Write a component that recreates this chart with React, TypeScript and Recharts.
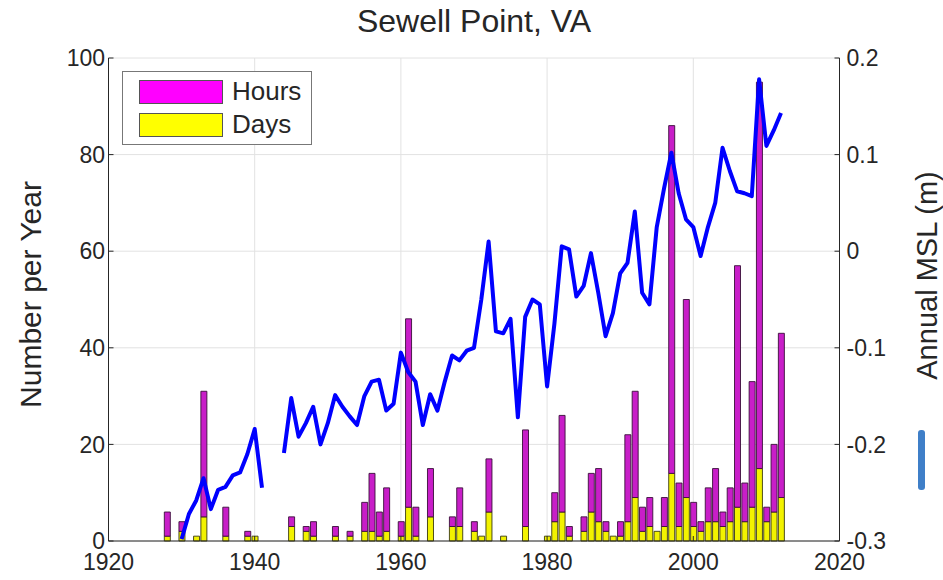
import React from "react";
import {
  ComposedChart,
  Bar,
  Line,
  XAxis,
  YAxis,
  CartesianGrid,
  Legend,
} from "recharts";

// flood counts per year at Sewell Point (only years with flooding)
const barYears = [
  1928, 1930, 1932, 1933, 1936, 1939, 1940, 1945, 1947, 1948, 1951, 1953, 1955,
  1956, 1957, 1958, 1960, 1961, 1962, 1964, 1967, 1968, 1970, 1971, 1972, 1974,
  1977, 1980, 1981, 1982, 1983, 1985, 1986, 1987, 1988, 1989, 1990, 1991, 1992,
  1993, 1994, 1995, 1996, 1997, 1998, 1999, 2000, 2001, 2002, 2003, 2004, 2005,
  2006, 2007, 2008, 2009, 2010, 2011, 2012,
];
const hours = [
  6, 4, 1, 31, 7, 2, 1, 5, 3, 4, 3, 2, 8, 14, 6, 11, 4, 46, 7, 15, 5, 11, 4, 1,
  17, 1, 23, 1, 10, 26, 3, 5, 14, 15, 4, 1, 4, 22, 31, 7, 9, 2, 9, 86, 12, 50, 8,
  4, 11, 15, 6, 11, 57, 12, 33, 95, 7, 20, 43,
];
const days = [
  1, 2, 1, 5, 1, 1, 1, 3, 2, 1, 1, 1, 2, 2, 1, 2, 1, 7, 1, 5, 3, 3, 2, 1, 6, 1,
  3, 1, 4, 6, 1, 2, 6, 4, 2, 1, 1, 4, 9, 2, 3, 2, 3, 14, 3, 9, 3, 2, 4, 4, 3, 4,
  7, 4, 7, 15, 4, 6, 9,
];

// annual mean sea level (m), 1930-2012, gap in 1942-43
const mslValues: (number | null)[] = [
  -0.298, -0.272, -0.258, -0.235, -0.267, -0.247, -0.244, -0.232, -0.229, -0.21,
  -0.184, -0.245, null, null, -0.209, -0.152, -0.192, -0.178, -0.161, -0.2,
  -0.178, -0.149, -0.161, -0.171, -0.18, -0.15, -0.135, -0.133, -0.165, -0.158,
  -0.105, -0.125, -0.135, -0.18, -0.148, -0.165, -0.135, -0.108, -0.113, -0.103,
  -0.1, -0.05, 0.01, -0.083, -0.085, -0.07, -0.172, -0.068, -0.05, -0.055,
  -0.14, -0.075, 0.005, 0.002, -0.047, -0.036, -0.002, -0.043, -0.088, -0.064,
  -0.023, -0.012, 0.041, -0.043, -0.055, 0.025, 0.065, 0.102, 0.06, 0.033,
  0.025, -0.005, 0.025, 0.05, 0.107, 0.083, 0.062, 0.06, 0.057, 0.178, 0.109,
  0.125, 0.143,
];
const mslYears = mslValues.map((_, i) => 1930 + i);

const xTicks = [1920, 1940, 1960, 1980, 2000, 2020];
const leftTicks = [0, 20, 40, 60, 80, 100];
const rightTicks = [-0.3, -0.2, -0.1, 0, 0.1, 0.2];

const years = Array.from(new Set([...barYears, ...mslYears])).sort((a, b) => a - b);
const data = years.map((year) => {
  const b = barYears.indexOf(year);
  const m = mslYears.indexOf(year);
  return {
    year,
    days: b >= 0 ? days[b] : undefined,
    hoursAbove: b >= 0 ? hours[b] - days[b] : undefined,
    msl: m >= 0 ? mslValues[m] : undefined,
  };
});

const TEXT = "#262626";
const FONT = "'Liberation Sans', Arial, sans-serif";
const MAGENTA = "#ff00ff";
const YELLOW = "#ffff00";

const tickStyle = { fontSize: 23, fill: TEXT, fontFamily: FONT };

function LegendBox() {
  const row = (color: string, label: string) => (
    <div style={{ display: "flex", alignItems: "center", height: 33 }}>
      <span
        style={{
          display: "inline-block",
          width: 82,
          height: 22,
          background: color,
          border: "1.5px solid #555",
          marginRight: 9,
        }}
      />
      <span style={{ fontSize: 26, color: TEXT, fontFamily: FONT }}>{label}</span>
    </div>
  );
  return (
    <div
      style={{
        border: "1.5px solid #777",
        background: "#fff",
        padding: "3px 8px 3px 16px",
        width: 164,
      }}
    >
      {row(MAGENTA, "Hours")}
      {row(YELLOW, "Days")}
    </div>
  );
}

export default function App() {
  return (
    <div style={{ position: "absolute", left: 0, top: 0, width: 943, height: 580, background: "#fff" }}>
      <div
        style={{
          position: "absolute",
          left: 108,
          width: 732,
          top: 3,
          textAlign: "center",
          fontFamily: FONT,
          fontSize: 32,
          color: TEXT,
        }}
      >
        Sewell Point, VA
      </div>
      <ComposedChart
        width={943}
        height={580}
        data={data}
        margin={{ top: 58, right: 0, bottom: 0, left: 0 }}
      >
        <CartesianGrid
          xAxisId="bottom"
          yAxisId="left"
          stroke="#e2e2e2"
          strokeWidth={1}
        />
        <XAxis
          xAxisId="bottom"
          dataKey="year"
          type="number"
          domain={[1920, 2020]}
          ticks={xTicks}
          tick={tickStyle}
          height={39}
          tickSize={-5}
          tickMargin={18}
          stroke={TEXT}
          allowDataOverflow
        />
        <XAxis
          xAxisId="top"
          orientation="top"
          dataKey="year"
          type="number"
          domain={[1920, 2020]}
          ticks={xTicks}
          tick={false}
          height={0}
          tickSize={-5}
          stroke={TEXT}
        />
        <YAxis
          yAxisId="left"
          domain={[0, 100]}
          ticks={leftTicks}
          tick={tickStyle}
          width={108.5}
          tickSize={-5}
          tickMargin={8.5}
          stroke={TEXT}
          label={({ viewBox }: any) => (
            <text
              x={viewBox.x + 30}
              y={viewBox.y + viewBox.height / 2 - 5}
              transform={`rotate(-90 ${viewBox.x + 30} ${viewBox.y + viewBox.height / 2 - 5})`}
              textAnchor="middle"
              dominantBaseline="central"
              fontSize={30}
              fontFamily={FONT}
              fill={TEXT}
            >
              Number per Year
            </text>
          )}
        />
        <YAxis
          yAxisId="right"
          orientation="right"
          domain={[-0.3, 0.2]}
          ticks={rightTicks}
          tick={tickStyle}
          width={103.5}
          tickSize={-5}
          tickMargin={12}
          stroke={TEXT}
          label={({ viewBox }: any) => (
            <text
              x={viewBox.x + 87}
              y={viewBox.y + viewBox.height / 2 - 24}
              transform={`rotate(-90 ${viewBox.x + 87} ${viewBox.y + viewBox.height / 2 - 24})`}
              textAnchor="middle"
              dominantBaseline="central"
              fontSize={29}
              fontFamily={FONT}
              fill={TEXT}
            >
              Annual MSL (m)
            </text>
          )}
        />
        <Legend
          verticalAlign="middle"
          align="center"
          content={() => <LegendBox />}
          wrapperStyle={{ top: 71, left: 122, width: "auto", height: "auto" }}
        />
        <Bar
          xAxisId="bottom"
          yAxisId="left"
          dataKey="days"
          stackId="flood"
          barSize={6}
          fill="#f2f200"
          stroke="#3a3a10"
          strokeWidth={0.9}
          isAnimationActive={false}
        />
        <Bar
          xAxisId="bottom"
          yAxisId="left"
          dataKey="hoursAbove"
          stackId="flood"
          barSize={6}
          fill="#c81ec8"
          stroke="#3a103a"
          strokeWidth={0.9}
          isAnimationActive={false}
        />
        <Line
          xAxisId="bottom"
          yAxisId="right"
          dataKey="msl"
          type="linear"
          stroke="#0000ff"
          strokeWidth={4}
          strokeLinejoin="round"
          dot={false}
          activeDot={false}
          isAnimationActive={false}
        />
      </ComposedChart>
      <div
        style={{
          position: "absolute",
          left: 918,
          top: 430,
          width: 7,
          height: 60,
          borderRadius: 3,
          background: "#3f7fc8",
        }}
      />
    </div>
  );
}
